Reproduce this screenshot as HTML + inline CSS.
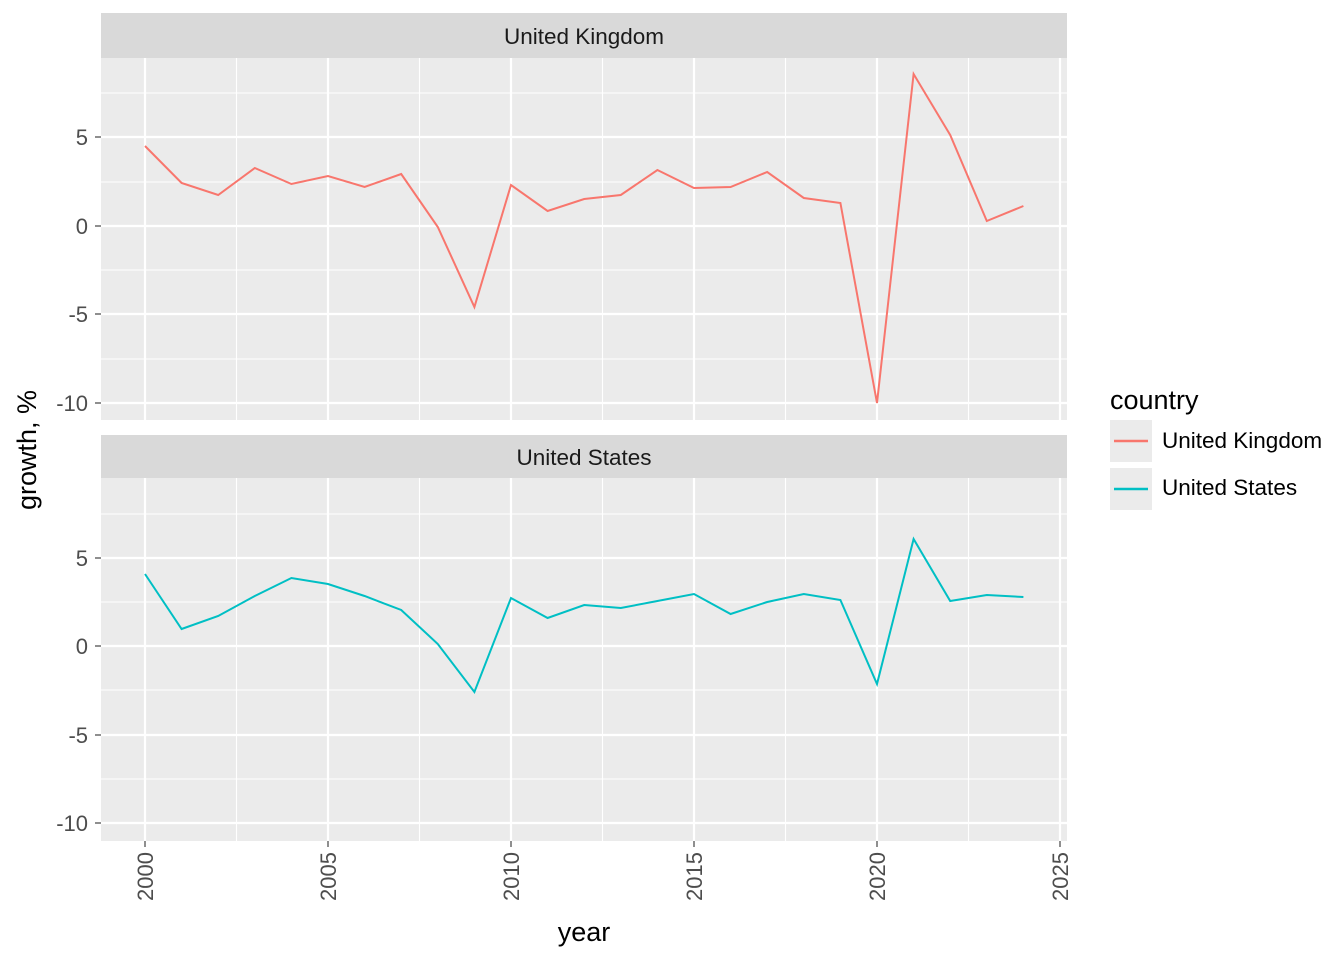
<!DOCTYPE html>
<html><head><meta charset="utf-8"><style>body{margin:0;background:#fff}</style></head><body>
<svg width="1344" height="960" xmlns="http://www.w3.org/2000/svg" font-family="Liberation Sans, sans-serif">
<rect width="1344" height="960" fill="#fff"/>
<g id="p1">
<rect x="101" y="13" width="966" height="45" fill="#d9d9d9"/>
<text x="584" y="44" font-size="22.5" text-anchor="middle" fill="#1a1a1a">United Kingdom</text>
<rect x="101" y="58" width="966" height="362" fill="#ebebeb"/>
<g stroke="#fff" stroke-width="1.1">
<line x1="101" x2="1067" y1="93" y2="93"/><line x1="101" x2="1067" y1="182" y2="182"/><line x1="101" x2="1067" y1="270" y2="270"/><line x1="101" x2="1067" y1="359" y2="359"/>
<line y1="58" y2="420" x1="236.5" x2="236.5"/><line y1="58" y2="420" x1="419.5" x2="419.5"/><line y1="58" y2="420" x1="602.5" x2="602.5"/><line y1="58" y2="420" x1="785.5" x2="785.5"/><line y1="58" y2="420" x1="968.5" x2="968.5"/>
</g>
<g stroke="#fff" stroke-width="2.2">
<line x1="101" x2="1067" y1="137" y2="137"/><line x1="101" x2="1067" y1="226" y2="226"/><line x1="101" x2="1067" y1="314" y2="314"/><line x1="101" x2="1067" y1="403" y2="403"/>
<line y1="58" y2="420" x1="145" x2="145"/><line y1="58" y2="420" x1="328" x2="328"/><line y1="58" y2="420" x1="511" x2="511"/><line y1="58" y2="420" x1="694" x2="694"/><line y1="58" y2="420" x1="877" x2="877"/><line y1="58" y2="420" x1="1060" x2="1060"/>
</g>
<polyline fill="none" stroke="#f8766d" stroke-width="2" points="145,146 181.6,183 218.2,195 254.8,168 291.4,184 328,176 364.6,187 401.2,174 437.8,227 474.4,307 511,185 547.6,211 584.2,199 620.8,195 657.4,170 694,188 730.6,187 767.2,172 803.8,198 840.4,203 877,403 913.6,74 950.2,135 986.8,221 1023.4,206"/>
<g font-size="22" fill="#4d4d4d" text-anchor="end"><text x="88" y="145">5</text><text x="88" y="234">0</text><text x="88" y="322">-5</text><text x="88" y="411">-10</text></g>
<g stroke="#333" stroke-width="1.1"><line x1="95" x2="101" y1="137" y2="137"/><line x1="95" x2="101" y1="226" y2="226"/><line x1="95" x2="101" y1="314" y2="314"/><line x1="95" x2="101" y1="403" y2="403"/></g>
</g>
<g id="p2">
<rect x="101" y="435" width="966" height="43" fill="#d9d9d9"/>
<text x="584" y="465" font-size="22.5" text-anchor="middle" fill="#1a1a1a">United States</text>
<rect x="101" y="478" width="966" height="363" fill="#ebebeb"/>
<g stroke="#fff" stroke-width="1.1">
<line x1="101" x2="1067" y1="514" y2="514"/><line x1="101" x2="1067" y1="602" y2="602"/><line x1="101" x2="1067" y1="690" y2="690"/><line x1="101" x2="1067" y1="779" y2="779"/>
<line y1="478" y2="841" x1="236.5" x2="236.5"/><line y1="478" y2="841" x1="419.5" x2="419.5"/><line y1="478" y2="841" x1="602.5" x2="602.5"/><line y1="478" y2="841" x1="785.5" x2="785.5"/><line y1="478" y2="841" x1="968.5" x2="968.5"/>
</g>
<g stroke="#fff" stroke-width="2.2">
<line x1="101" x2="1067" y1="558" y2="558"/><line x1="101" x2="1067" y1="646" y2="646"/><line x1="101" x2="1067" y1="735" y2="735"/><line x1="101" x2="1067" y1="823" y2="823"/>
<line y1="478" y2="841" x1="145" x2="145"/><line y1="478" y2="841" x1="328" x2="328"/><line y1="478" y2="841" x1="511" x2="511"/><line y1="478" y2="841" x1="694" x2="694"/><line y1="478" y2="841" x1="877" x2="877"/><line y1="478" y2="841" x1="1060" x2="1060"/>
</g>
<polyline fill="none" stroke="#00bfc4" stroke-width="2" points="145,574 181.6,629 218.2,616 254.8,596 291.4,578 328,584 364.6,596 401.2,610 437.8,644 474.4,692 511,598 547.6,618 584.2,605 620.8,608 657.4,601 694,594 730.6,614 767.2,602 803.8,594 840.4,600 877,684 913.6,539 950.2,601 986.8,595 1023.4,597"/>
<g font-size="22" fill="#4d4d4d" text-anchor="end"><text x="88" y="566">5</text><text x="88" y="654">0</text><text x="88" y="743">-5</text><text x="88" y="831">-10</text></g>
<g stroke="#333" stroke-width="1.1"><line x1="95" x2="101" y1="558" y2="558"/><line x1="95" x2="101" y1="646" y2="646"/><line x1="95" x2="101" y1="735" y2="735"/><line x1="95" x2="101" y1="823" y2="823"/>
<line y1="841" y2="847" x1="145" x2="145"/><line y1="841" y2="847" x1="328" x2="328"/><line y1="841" y2="847" x1="511" x2="511"/><line y1="841" y2="847" x1="694" x2="694"/><line y1="841" y2="847" x1="877" x2="877"/><line y1="841" y2="847" x1="1060" x2="1060"/></g>
</g>
<g font-size="22" fill="#4d4d4d" text-anchor="end">
<text transform="translate(153,852) rotate(-90)">2000</text><text transform="translate(336,852) rotate(-90)">2005</text><text transform="translate(519,852) rotate(-90)">2010</text><text transform="translate(702,852) rotate(-90)">2015</text><text transform="translate(885,852) rotate(-90)">2020</text><text transform="translate(1068,852) rotate(-90)">2025</text>
</g>
<text x="584" y="941" font-size="27" text-anchor="middle" fill="#000">year</text>
<text transform="translate(36,450) rotate(-90)" font-size="27" text-anchor="middle" fill="#000">growth, %</text>
<text x="1110" y="409" font-size="27" fill="#000">country</text>
<rect x="1110" y="420" width="42" height="42" fill="#ebebeb"/>
<line x1="1114" x2="1148" y1="441" y2="441" stroke="#f8766d" stroke-width="2.5"/>
<rect x="1110" y="468" width="42" height="42" fill="#ebebeb"/>
<line x1="1114" x2="1148" y1="489" y2="489" stroke="#00bfc4" stroke-width="2.5"/>
<text x="1162" y="448" font-size="22.5" fill="#000">United Kingdom</text>
<text x="1162" y="495" font-size="22.5" fill="#000">United States</text>
</svg>
</body></html>
